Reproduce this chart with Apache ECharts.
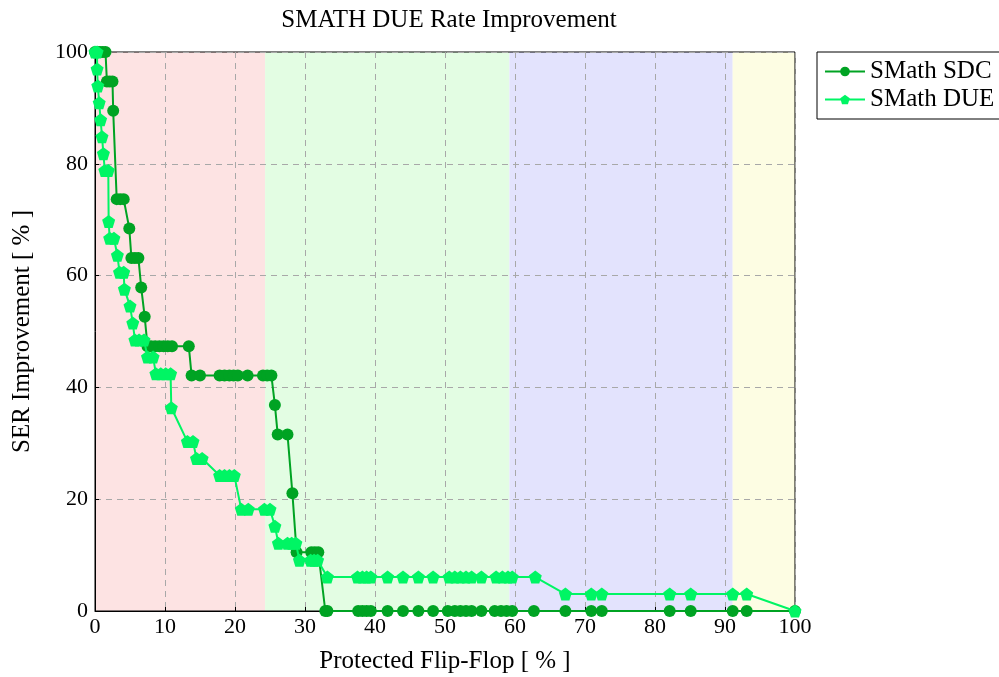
<!DOCTYPE html>
<html>
<head>
<meta charset="utf-8">
<script src="https://cdn.jsdelivr.net/npm/echarts@6/dist/echarts.min.js"></script>
<style>
  html, body { margin: 0; padding: 0; background: #fff; }
  #chart { width: 999px; height: 677px; }
</style>
</head>
<body>
<div id="chart"></div>
<script>
// Protected flip-flop share [%] and SER improvement [%] per configuration
const sdcX = [0, 0.3, 0.7, 1.1, 1.5, 1.7, 2.1, 2.5, 2.6, 3.1, 3.6, 4.1, 4.9, 5.2, 5.7, 6.2, 6.6, 7.1,
  7.5, 8.0, 8.6, 9.2, 9.8, 10.4, 11.0, 13.4, 13.8, 15.0, 17.8, 18.5, 19.2, 19.8, 20.4, 21.8, 24.0, 24.6, 25.2,
  25.7, 26.1, 27.5, 28.2, 28.8, 30.9, 31.4, 31.9, 32.9, 33.2, 37.6, 38.2, 38.8, 39.4, 41.8, 44.0, 46.2, 48.3,
  50.4, 51.4, 52.2, 53.0, 53.8, 55.2, 57.1, 58.0, 58.8, 59.6, 62.7, 67.2, 70.9, 72.4, 82.1, 85.1, 91.1, 93.1, 100];
const sdcY = [100, 100, 100, 100, 100, 94.74, 94.74, 94.74, 89.47, 73.68, 73.68, 73.68, 68.42, 63.16, 63.16, 63.16, 57.89, 52.63,
  47.37, 47.37, 47.37, 47.37, 47.37, 47.37, 47.37, 47.37, 42.11, 42.11, 42.11, 42.11, 42.11, 42.11, 42.11, 42.11, 42.11, 42.11, 42.11,
  36.84, 31.58, 31.58, 21.05, 10.53, 10.53, 10.53, 10.53, 0, 0, 0, 0, 0, 0, 0, 0, 0, 0,
  0, 0, 0, 0, 0, 0, 0, 0, 0, 0, 0, 0, 0, 0, 0, 0, 0, 0, 0];

const dueX = [0, 0.3, 0.3, 0.4, 0.6, 0.8, 1.0, 1.2, 1.4, 1.9, 1.95, 2.1, 2.7, 3.2, 3.5, 4.1, 4.2, 5.0, 5.4, 5.7, 6.3, 7.0,
  7.5, 8.3, 8.7, 9.4, 10.1, 10.8, 10.9, 13.2, 14.0, 14.5, 15.3, 17.8, 18.5, 19.2, 19.9, 20.9, 21.9, 24.2, 25.0,
  25.7, 26.2, 27.5, 28.1, 28.7, 29.2, 30.8, 31.3, 31.8, 33.2, 37.5, 38.2, 38.8, 39.4, 41.8, 44.0, 46.2, 48.3,
  50.6, 51.4, 52.2, 53.0, 53.8, 55.2, 57.3, 58.2, 59.0, 59.6, 62.9, 67.2, 70.9, 72.4, 82.1, 85.1, 91.1, 93.1, 100];
const dueY = [100, 100, 96.97, 93.94, 90.91, 87.88, 84.85, 81.82, 78.79, 78.79, 69.70, 66.67, 66.67, 63.64, 60.61, 60.61, 57.58, 54.55, 51.52, 48.48, 48.48, 48.48,
  45.45, 45.45, 42.42, 42.42, 42.42, 42.42, 36.36, 30.30, 30.30, 27.27, 27.27, 24.24, 24.24, 24.24, 24.24, 18.18, 18.18, 18.18, 18.18,
  15.15, 12.12, 12.12, 12.12, 12.12, 9.09, 9.09, 9.09, 9.09, 6.06, 6.06, 6.06, 6.06, 6.06, 6.06, 6.06, 6.06, 6.06,
  6.06, 6.06, 6.06, 6.06, 6.06, 6.06, 6.06, 6.06, 6.06, 6.06, 6.06, 3.03, 3.03, 3.03, 3.03, 3.03, 3.03, 3.03, 0];

// Shaded x-ranges behind the curves
const bandEdges = [0, 24.3, 59.2, 91.1, 100];
const bandColors = ['#fde3e3', '#e3fde3', '#e3e3fd', '#fdfde3'];

const seriesNames = ['SMath SDC', 'SMath DUE'];
const xTicks = [0, 10, 20, 30, 40, 50, 60, 70, 80, 90, 100];
const yTicks = [0, 20, 40, 60, 80, 100];

const pentagon = 'path://M0,-1 L0.951,-0.309 L0.588,0.809 L-0.588,0.809 L-0.951,-0.309 Z';
const serif = 'Liberation Serif, DejaVu Serif, serif';

const zip = (xs, ys) => xs.map((x, i) => [x, ys[i]]);
const bands = bandColors.map((c, i) => [
  { xAxis: bandEdges[i], itemStyle: { color: c } },
  { xAxis: bandEdges[i + 1] }
]);

const axisCommon = {
  type: 'value', min: 0, max: 100, z: 2,
  nameLocation: 'middle',
  nameTextStyle: { fontFamily: serif, fontSize: 25, color: '#000' },
  axisLine: { show: true, lineStyle: { color: '#000', width: 1 } },
  axisTick: { show: true, inside: true, length: 4, lineStyle: { color: '#000' } },
  splitLine: { show: true, lineStyle: { color: '#a8a8a8', type: [6, 5], width: 1 } }
};

const chart = echarts.init(document.getElementById('chart'), null, { renderer: 'canvas' });
chart.setOption({
  animation: false,
  backgroundColor: '#fff',
  title: {
    text: 'SMATH DUE Rate Improvement',
    left: 444, top: 3, textAlign: 'center',
    textStyle: { fontFamily: serif, fontWeight: 'normal', fontSize: 25, color: '#000' }
  },
  legend: {
    orient: 'vertical',
    left: 817, top: 52,
    borderColor: '#000', borderWidth: 1, borderRadius: 0,
    padding: [7, 12, 7, 7],
    itemGap: 3, itemWidth: 40, itemHeight: 12,
    textStyle: { fontFamily: serif, fontSize: 25, color: '#000', lineHeight: 25 },
    data: seriesNames
  },
  grid: {
    left: 95, right: 204, top: 52, bottom: 66,
    containLabel: false, outerBoundsMode: 'none',
    show: true, borderColor: '#000', borderWidth: 1, backgroundColor: 'transparent', z: 2
  },
  xAxis: Object.assign({}, axisCommon, {
    interval: 10,
    name: 'Protected Flip-Flop [ % ]', nameGap: 38,
    axisLabel: { fontFamily: serif, fontSize: 22, color: '#000', margin: 5,
      formatter: v => xTicks.includes(v) ? String(v) : '' }
  }),
  yAxis: Object.assign({}, axisCommon, {
    interval: 20,
    name: 'SER Improvement [ % ]', nameGap: 60, nameRotate: 90,
    axisLabel: { fontFamily: serif, fontSize: 22, color: '#000', margin: 7,
      formatter: v => yTicks.includes(v) ? String(v) : '' }
  }),
  series: [
    {
      name: 'bands', type: 'line', data: [], z: 1, silent: true,
      markArea: { silent: true, data: bands }
    },
    {
      name: seriesNames[0], type: 'line',
      data: zip(sdcX, sdcY),
      symbol: 'circle', symbolSize: 12,
      lineStyle: { color: '#00a323', width: 2 },
      itemStyle: { color: '#00a323' },
      z: 3
    },
    {
      name: seriesNames[1], type: 'line',
      data: zip(dueX, dueY),
      symbol: pentagon, symbolSize: 13,
      lineStyle: { color: '#00f564', width: 2 },
      itemStyle: { color: '#00f564' },
      z: 4
    }
  ]
});
</script>
</body>
</html>
